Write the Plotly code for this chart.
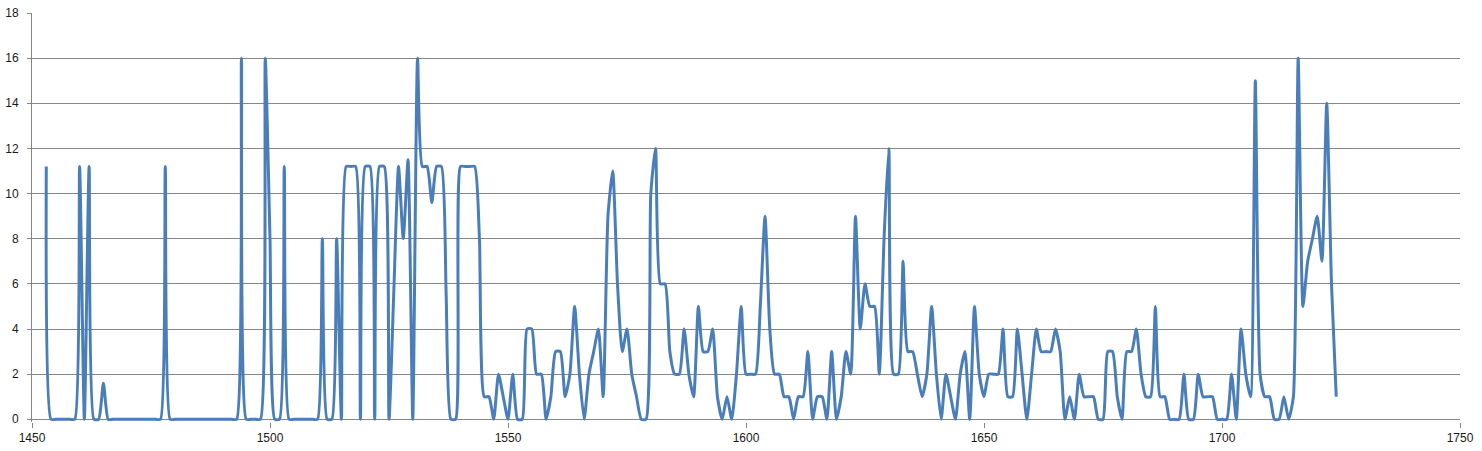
import plotly.graph_objects as go

start_year = 1453
values = [
    11.2, 0, 0, 0, 0, 0, 0,                          # 1453-1459
    11.2, 0, 11.2, 0, 0, 1.6, 0, 0, 0, 0,            # 1460s
    0, 0, 0, 0, 0, 0, 0, 0, 11.2, 0,                 # 1470s
    0, 0, 0, 0, 0, 0, 0, 0, 0, 0,                    # 1480s
    0, 0, 0, 0, 16, 0, 0, 0, 0, 16,                  # 1490s
    8, 0, 0, 11.2, 0, 0, 0, 0, 0, 0,                 # 1500s
    0, 8, 0, 0, 8, 0, 11.2, 11.2, 11.2, 0,           # 1510s
    11.2, 11.2, 0, 11.2, 11.2, 0, 5.6, 11.2, 8, 11.5,  # 1520s
    0, 16, 11.2, 11.2, 9.6, 11.2, 11.2, 5.6, 0, 0,   # 1530s
    11.2, 11.2, 11.2, 11.2, 8, 1, 1, 0, 2, 1,        # 1540s
    0, 2, 0, 0, 4, 4, 2, 2, 0, 1,                    # 1550s
    3, 3, 1, 2, 5, 2, 0, 2, 3, 4,                    # 1560s
    1, 9, 11, 6, 3, 4, 2, 1, 0, 0,                   # 1570s
    10, 12, 6, 6, 3, 2, 2, 4, 2, 1,                  # 1580s
    5, 3, 3, 4, 1, 0, 1, 0, 2, 5,                    # 1590s
    2, 2, 2, 5, 9, 4, 2, 2, 1, 1,                    # 1600s
    0, 1, 1, 3, 0, 1, 1, 0, 3, 0,                    # 1610s
    1, 3, 2, 9, 4, 6, 5, 5, 2, 8,                    # 1620s
    12, 2, 2, 7, 3, 3, 2, 1, 2, 5,                   # 1630s
    2, 0, 2, 1, 0, 2, 3, 0, 5, 2,                    # 1640s
    1, 2, 2, 2, 4, 1, 1, 4, 2, 0,                    # 1650s
    2, 4, 3, 3, 3, 4, 3, 0, 1, 0,                    # 1660s
    2, 1, 1, 1, 0, 0, 3, 3, 1, 0,                    # 1670s
    3, 3, 4, 2, 1, 1, 5, 1, 1, 0,                    # 1680s
    0, 0, 2, 0, 0, 2, 1, 1, 1, 0,                    # 1690s
    0, 0, 2, 0, 4, 2, 1, 15, 2, 1,                   # 1700s
    1, 0, 0, 1, 0, 1, 16, 5, 7, 8,                   # 1710s
    9, 7, 14, 6, 1,                                  # 1720-1724
]
years = [start_year + i for i in range(len(values))]

x_ticks = [1450, 1500, 1550, 1600, 1650, 1700, 1750]
y_ticks = [0, 2, 4, 6, 8, 10, 12, 14, 16, 18]

grid = "#868686"
font = dict(family="Liberation Sans, Arial, sans-serif", size=12, color="#1a1a1a")

fig = go.Figure(go.Scatter(
    x=years, y=values, mode="lines",
    line=dict(color="#4a7ebb", width=3, shape="spline", smoothing=0.55, simplify=False),
    hoverinfo="x+y",
))

fig.update_layout(
    width=1482, height=451,
    margin=dict(l=32, r=22, t=13, b=29, autoexpand=False),
    paper_bgcolor="white", plot_bgcolor="white",
    showlegend=False, font=font,
)
fig.update_xaxes(
    range=[1450, 1750], tickvals=x_ticks, ticktext=[str(v) for v in x_ticks],
    showgrid=False, zeroline=False, showline=False, automargin=False,
    ticks="outside", ticklen=5, tickcolor=grid, tickwidth=1,
)
fig.update_yaxes(
    range=[-0.12, 18], tickvals=y_ticks, ticktext=[str(v) for v in y_ticks],
    showgrid=True, gridcolor=grid, gridwidth=1, automargin=False,
    zeroline=False, showline=True, linecolor=grid, linewidth=1,
    ticks="outside", ticklen=4, tickcolor=grid, tickwidth=1,
    ticklabelstandoff=6,
)

fig.write_html(
    "out.html",
    config={"displayModeBar": False},
    post_script="document.body.style.margin='0';document.body.style.overflow='hidden';",
)
